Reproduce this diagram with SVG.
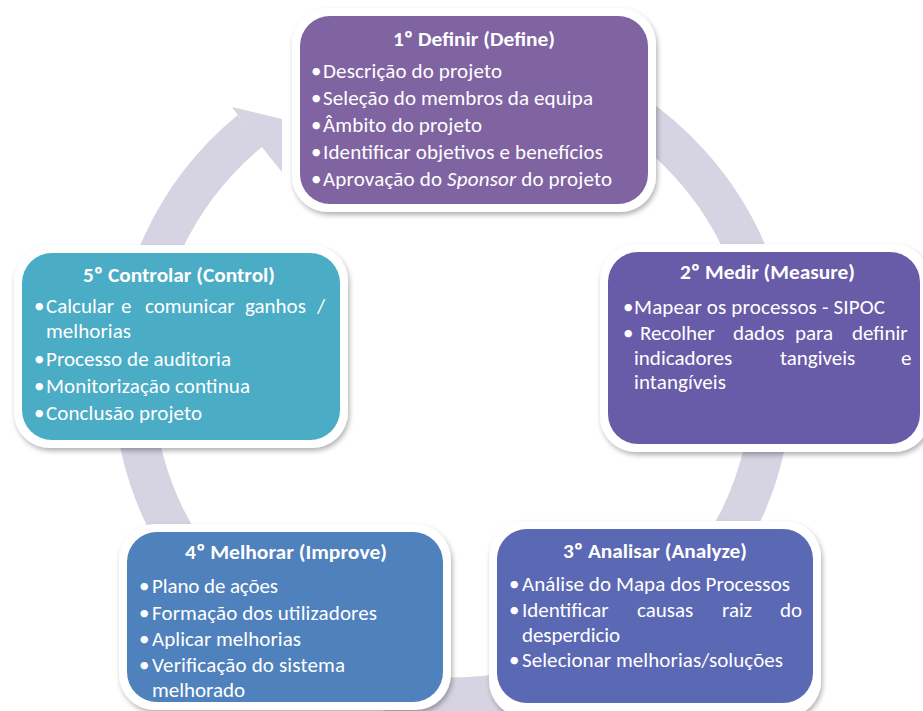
<svg xmlns="http://www.w3.org/2000/svg" width="923" height="711" viewBox="0 0 923 711">
  <defs>
    <filter id="soft-shadow" x="-10%" y="-10%" width="125%" height="130%">
      <feDropShadow dx="1.5" dy="3" stdDeviation="2.5" flood-color="#000000" flood-opacity="0.3"/>
    </filter>
    <style>
      .frame { fill: #ffffff; filter: url(#soft-shadow); }
      .txt { font-family: Carlito, Lato, "Liberation Sans", sans-serif; font-size: 21px; fill: #ffffff; }
      .title { font-weight: bold; text-anchor: middle; }
      .ring { fill: none; stroke: #D6D3E3; stroke-width: 40; }
      .head { fill: #D6D3E3; }
    </style>
  </defs>
  <rect width="923" height="711" fill="#ffffff"/>

  <!-- circular arrow running clockwise behind the five phases -->
  <g id="connectors">
    <path class="ring" d="M 417.5 60.4 A 319.5 319.5 0 1 1 250.2 130.8"/>
    <polygon class="head" points="232,107 282,119 282,172 269,156 245,125"/>
  </g>

  <!-- 1: Define -->
  <g id="node-define">
    <rect class="frame" x="292" y="8" width="364" height="204" rx="36"/>
    <rect x="300" y="16" width="348" height="188" rx="30" fill="#8064A2"/>
    <text class="txt title" x="474" y="46" textLength="162" lengthAdjust="spacingAndGlyphs">1º Definir (Define)</text>
    <text class="txt" x="311" y="78">•</text>
    <text class="txt" x="323" y="78" textLength="179">Descrição do projeto</text>
    <text class="txt" x="311" y="105">•</text>
    <text class="txt" x="323" y="105" textLength="270">Seleção do membros da equipa</text>
    <text class="txt" x="311" y="132">•</text>
    <text class="txt" x="323" y="132" textLength="159">Âmbito do projeto</text>
    <text class="txt" x="311" y="159">•</text>
    <text class="txt" x="323" y="159" textLength="280">Identificar objetivos e benefícios</text>
    <text class="txt" x="311" y="186">•</text>
    <text class="txt" x="323" y="186" textLength="289">Aprovação do <tspan font-style="italic">Sponsor</tspan> do projeto</text>
  </g>

  <!-- 2: Measure -->
  <g id="node-measure">
    <rect class="frame" x="600" y="244" width="330" height="208" rx="36"/>
    <rect x="608" y="252" width="312" height="192" rx="30" fill="#685BA8"/>
    <text class="txt title" x="767.5" y="279" textLength="175" lengthAdjust="spacingAndGlyphs">2º Medir (Measure)</text>
    <text class="txt" x="623" y="314">•</text>
    <text class="txt" x="634" y="314" textLength="251">Mapear os processos - SIPOC</text>
    <text class="txt" x="623" y="340">•</text>
    <text class="txt" y="340"><tspan x="640">Recolher</tspan><tspan x="733">dados</tspan><tspan x="795">para</tspan><tspan x="852">definir</tspan></text>
    <text class="txt" y="365"><tspan x="634">indicadores</tspan><tspan x="780">tangiveis</tspan><tspan x="901">e</tspan></text>
    <text class="txt" x="634" y="389" textLength="92">intangíveis</text>
  </g>

  <!-- 3: Analyze -->
  <g id="node-analyze">
    <rect class="frame" x="489" y="521" width="332" height="196" rx="36"/>
    <rect x="497" y="529" width="316" height="174" rx="30" fill="#5B68B4"/>
    <text class="txt title" x="655" y="558" textLength="184" lengthAdjust="spacingAndGlyphs">3º Analisar (Analyze)</text>
    <text class="txt" x="509" y="591">•</text>
    <text class="txt" x="522" y="591" textLength="268">Análise do Mapa dos Processos</text>
    <text class="txt" x="509" y="617">•</text>
    <text class="txt" y="617"><tspan x="522">Identificar</tspan><tspan x="637">causas</tspan><tspan x="722">raiz</tspan><tspan x="780">do</tspan></text>
    <text class="txt" x="522" y="642" textLength="98">desperdicio</text>
    <text class="txt" x="509" y="667">•</text>
    <text class="txt" x="522" y="667" textLength="261">Selecionar melhorias/soluções</text>
  </g>

  <!-- 4: Improve -->
  <g id="node-improve">
    <rect class="frame" x="119" y="524" width="332" height="186" rx="36"/>
    <rect x="127" y="532" width="316" height="170" rx="30" fill="#4F81BD"/>
    <text class="txt title" x="286" y="559" textLength="202" lengthAdjust="spacingAndGlyphs">4º Melhorar (Improve)</text>
    <text class="txt" x="139" y="593">•</text>
    <text class="txt" x="152" y="593" textLength="126">Plano de ações</text>
    <text class="txt" x="139" y="620">•</text>
    <text class="txt" x="152" y="620" textLength="225">Formação dos utilizadores</text>
    <text class="txt" x="139" y="646">•</text>
    <text class="txt" x="152" y="646" textLength="149">Aplicar melhorias</text>
    <text class="txt" x="139" y="672">•</text>
    <text class="txt" x="152" y="672" textLength="193">Verificação do sistema</text>
    <text class="txt" x="152" y="697" textLength="93">melhorado</text>
  </g>

  <!-- 5: Control -->
  <g id="node-control">
    <rect class="frame" x="14" y="245" width="334" height="203" rx="36"/>
    <rect x="22" y="253" width="318" height="187" rx="30" fill="#4BACC6"/>
    <text class="txt title" x="179" y="282" textLength="192" lengthAdjust="spacingAndGlyphs">5º Controlar (Control)</text>
    <text class="txt" x="34" y="313">•</text>
    <text class="txt" y="313"><tspan x="46">Calcular</tspan><tspan x="121">e</tspan><tspan x="145">comunicar</tspan><tspan x="245">ganhos</tspan><tspan x="317">/</tspan></text>
    <text class="txt" x="46" y="338" textLength="85">melhorias</text>
    <text class="txt" x="34" y="366">•</text>
    <text class="txt" x="46" y="366" textLength="185">Processo de auditoria</text>
    <text class="txt" x="34" y="393">•</text>
    <text class="txt" x="46" y="393" textLength="204">Monitorização continua</text>
    <text class="txt" x="34" y="420">•</text>
    <text class="txt" x="46" y="420" textLength="156">Conclusão projeto</text>
  </g>
</svg>
